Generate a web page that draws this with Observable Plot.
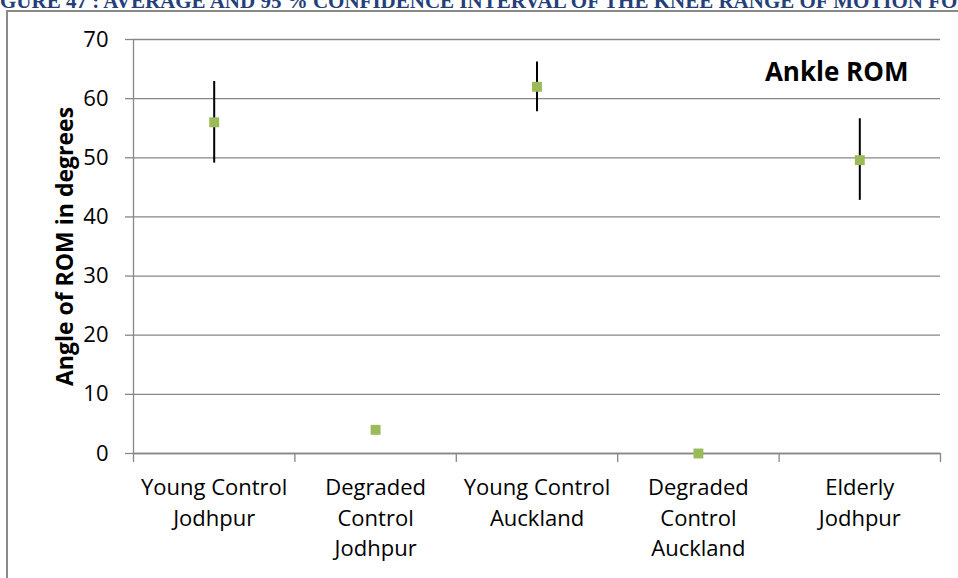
<!DOCTYPE html>
<html>
<head>
<meta charset="utf-8">
<script src="https://cdn.jsdelivr.net/npm/d3@7"></script>
<script src="https://cdn.jsdelivr.net/npm/@observablehq/plot@0.6"></script>
<style>
  html, body { margin: 0; padding: 0; background: #fff; overflow: hidden; }
  #wrap { position: relative; width: 958px; height: 578px; overflow: hidden; }
  #caption {
    position: absolute; left: -21px; top: -9px; white-space: nowrap; line-height: 21px;
    font-family: "Liberation Serif", serif; font-weight: bold; font-size: 21px;
    color: #243f7a;
  }
  #frame {
    position: absolute; left: 6px; top: 10px; width: 1000px; height: 600px;
    border-left: 2px solid #8a8a8a; border-top: 2px solid #8a8a8a;
  }
  #chart { position: absolute; left: 0; top: 0; }
</style>
</head>
<body>
<div id="wrap">
  <div id="caption">FIGURE 47 : AVERAGE AND 95 % CONFIDENCE INTERVAL OF THE KNEE RANGE OF MOTION FOR</div>
  <div id="frame"></div>
  <div id="chart"></div>
</div>
<script>
const categories = ["Young Control\nJodhpur", "Degraded\nControl\nJodhpur", "Young Control\nAuckland", "Degraded\nControl\nAuckland", "Elderly\nJodhpur"];
const means = [56.0, 4.0, 62.0, 0.0, 49.6];
const lower = [49.1, null, 57.8, null, 42.8];
const upper = [62.9, null, 66.2, null, 56.6];
const yTicks = [0, 10, 20, 30, 40, 50, 60, 70];
const chartTitle = "Ankle ROM";
const yLabel = "Angle of ROM in degrees";

const rows = categories.map((c, i) => ({pos: i + 0.5, cat: c, mean: means[i], lo: lower[i], hi: upper[i]}));
const bars = rows.filter(d => d.lo != null);
const centers = rows.map(d => d.pos);
const bounds = d3.range(categories.length + 1);

const font = "'Open Sans', sans-serif";
const gray = "#878787";

const plot = Plot.plot({
  width: 958, height: 578,
  marginLeft: 133, marginRight: 18, marginTop: 39, marginBottom: 125,
  style: {fontFamily: font, background: "transparent", color: "#000"},
  x: {type: "linear", domain: [0, categories.length], axis: null},
  y: {domain: [0, 70], axis: null},
  marks: [
    Plot.gridY(yTicks, {stroke: gray, strokeOpacity: 1, strokeWidth: 1.3}),
    Plot.axisY(yTicks, {label: null, tickSize: 8, tickPadding: 17, stroke: gray, strokeWidth: 1.3, fontSize: 22, fill: "#000"}),
    Plot.ruleX([0], {stroke: gray, strokeWidth: 1.3}),
    Plot.ruleY([0], {stroke: gray, strokeWidth: 1.3}),
    Plot.axisX(bounds, {label: null, tickSize: 9, tickFormat: () => "", stroke: gray, strokeWidth: 1.3}),
    Plot.axisX(centers, {label: null, tickSize: 0, tickPadding: 20, tickFormat: (v) => categories[Math.floor(v)], fontSize: 22, lineHeight: 1.39, fill: "#000"}),
    Plot.ruleX(bars, {x: "pos", y1: "lo", y2: "hi", stroke: "#000", strokeWidth: 2}),
    Plot.dot(rows, {x: "pos", y: "mean", symbol: "square", r: 5.6, fill: "#9bbb59", stroke: "none"}),
    Plot.text([chartTitle], {frameAnchor: "top-right", dx: -32, dy: 33, textAnchor: "end", lineAnchor: "middle", fontSize: 26, fontWeight: "bold", fill: "#000"}),
    Plot.text([yLabel], {frameAnchor: "left", dx: -68, rotate: -90, textAnchor: "middle", fontSize: 23, fontWeight: "bold", fill: "#000", lineAnchor: "middle"})
  ]
});
document.getElementById("chart").appendChild(plot);
</script>
</body>
</html>
